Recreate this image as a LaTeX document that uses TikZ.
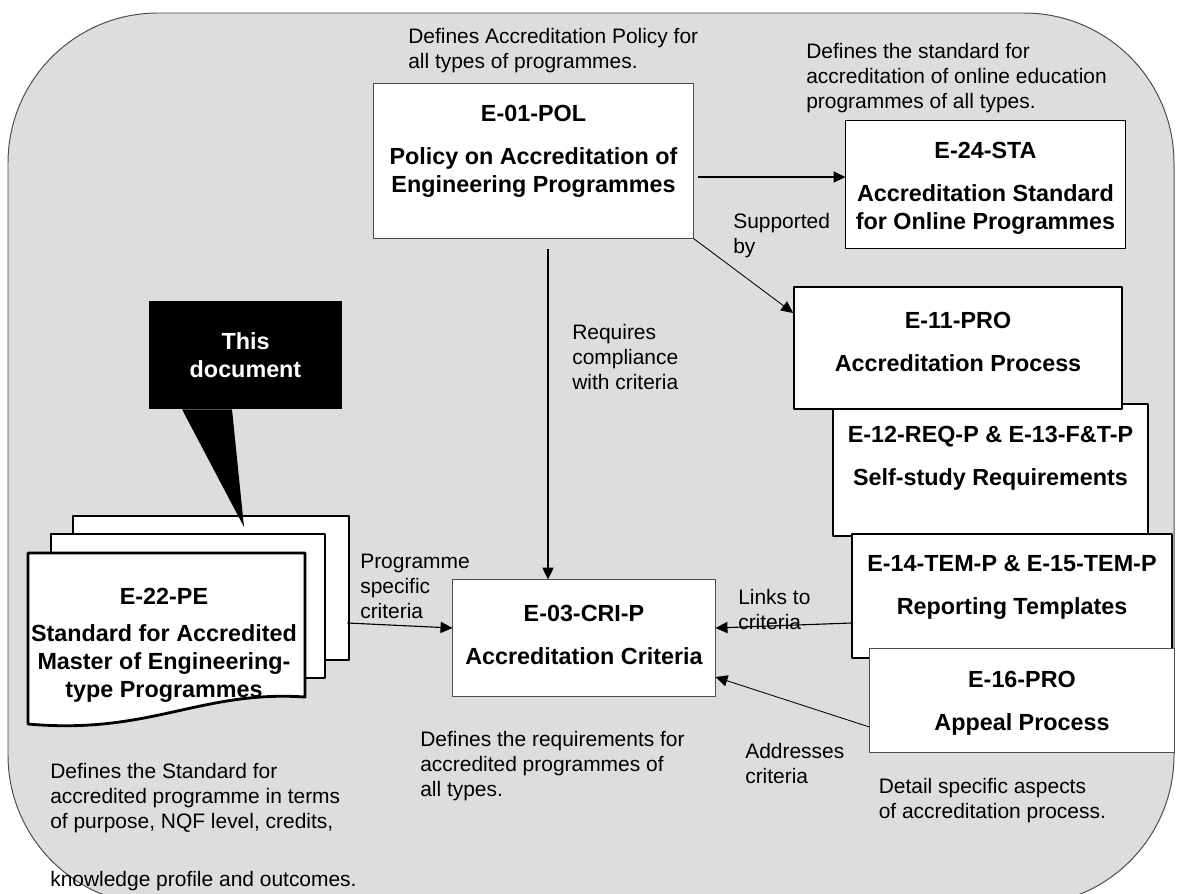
\documentclass[tikz,border=0pt]{standalone}
\usepackage{fontspec}
\setmainfont{Liberation Sans}
\usetikzlibrary{arrows.meta}

\newcommand{\pxl}{0.025cm}
\definecolor{panelgray}{RGB}{221,221,221}

\begin{document}
\begin{tikzpicture}[x=\pxl, y=-\pxl, line join=round, >={Triangle[length=8.5pt,width=8pt]}]

	\tikzset{docbox/.style={draw=black!70, line width=0.7pt, fill=white, inner sep=0pt},
		procbox/.style={docbox, draw=black, line width=1.1pt},
		pageline/.style={draw=black, line width=2pt, fill=white},
		pagebox/.style={pageline, inner sep=0pt},
		boxtext/.style={font=\fontsize{16.6}{19.9}\selectfont\bfseries, align=center, inner sep=0pt},
		remark/.style={font=\fontsize{14.9}{17.8}\selectfont, align=left, anchor=north west, inner sep=0pt},
		arrowline/.style={->, line width=0.8pt}}

	\useasboundingbox (0,0) rectangle (1179,894);
	\draw[fill=panelgray, draw=black!70, line width=0.7pt, rounded corners=3.75cm] (8,13) rectangle (1174,905);

	% remarks
	\node[remark] (polnote) at (408,28) {Defines Accreditation Policy for\\all types of programmes.};
	\node[remark] (stanote) at (806,43) {Defines the standard for\\accreditation of online education\\programmes of all types.};
	\node[remark] (supnote) at (733,213) {Supported\\by};
	\node[remark] (reqnote) at (572,324) {Requires\\compliance\\with criteria};
	\node[remark] (prgnote) at (360,554) {Programme\\specific\\criteria};
	\node[remark] (lnknote) at (738,589) {Links to\\criteria};
	\node[remark] (adrnote) at (745,743) {Addresses\\criteria};
	\node[remark] (prcnote) at (878.5,778) {Detail specific aspects\\of accreditation process.};
	\node[remark] (crinote) at (420,731) {Defines the requirements for\\accredited programmes of\\all types.};
	\node[remark] (stdnote) at (50,763) {Defines the Standard for\\accredited programme in terms\\of purpose, NQF level, credits,\\[23.5pt]knowledge profile and outcomes.};

	% documents
	\node[docbox, minimum width=7.975cm, minimum height=3.85cm] (e01) at (533.5,161) {};
	\node[boxtext] (e01txt) at (533.5,151.5) {E-01-POL\\[10.7pt]Policy on Accreditation of\\Engineering Programmes};
	\node[docbox, draw=black, minimum width=6.975cm, minimum height=3.175cm] (e24) at (985.5,184.5) {};
	\node[boxtext] (e24txt) at (985.5,188.5) {E-24-STA\\[10.7pt]Accreditation Standard\\for Online Programmes};
	\node[procbox, minimum width=7.875cm, minimum height=3.3cm] (e12) at (990.5,470) {};
	\node[boxtext] (e12txt) at (990.5,458) {E-12-REQ-P \& E-13-F\&T-P\\[10.7pt]Self-study Requirements};
	\node[procbox, minimum width=8.2cm, minimum height=3.05cm] (e11) at (958,348) {};
	\node[boxtext] (e11txt) at (958,341.5) {E-11-PRO\\[10.7pt]Accreditation Process};
	\node[procbox, minimum width=8cm, minimum height=3.1cm] (e14) at (1012,596) {};
	\node[boxtext] (e14txt) at (1012,587.5) {E-14-TEM-P \& E-15-TEM-P\\[10.7pt]Reporting Templates};
	\node[docbox, minimum width=7.6cm, minimum height=2.6cm] (e16) at (1022,700) {};
	\node[boxtext] (e16txt) at (1022,703.5) {E-16-PRO\\[10.7pt]Appeal Process};
	\node[docbox, minimum width=6.55cm, minimum height=2.9cm] (e03) at (584,638) {};
	\node[boxtext] (e03txt) at (584,634.5) {E-03-CRI-P\\[10.7pt]Accreditation Criteria};

	% this document (stack)
	\node[pagebox, minimum width=6.9cm, minimum height=3.6cm] (pg3) at (211,588) {};
	\node[pagebox, minimum width=6.85cm, minimum height=3.6cm] (pg2) at (188,606) {};
	\filldraw[pageline] (28,553) -- (305,553) -- (305,697) .. controls (200,690) and (150,735) .. (28,724) -- cycle;
	\node[boxtext] (e22txt) at (164,645) {E-22-PE\\[6.4pt]Standard for Accredited\\Master of Engineering-\\type Programmes};

	% callout
	\node[fill=black, text=white, boxtext, minimum width=4.825cm, minimum height=2.7cm] (note) at (245.5,355) {This\\document};
	\coordinate (tip) at (244,527);
	\fill ([xshift=-1.5875cm]note.south) -- (tip) -- ([xshift=-0.3375cm]note.south) -- cycle;

	% links
	\draw[arrowline] ([xshift=0.1cm,yshift=-0.4cm]e01.east) coordinate (a1) -- (a1 -| e24.west);
	\draw[arrowline, line width=0.6pt] (e01.south east) -- ([yshift=0.875cm]e11.west);
	\draw[arrowline, line width=1pt] ([xshift=0.3625cm,yshift=-0.25cm]e01.south) coordinate (a3) -- (a3 |- e03.north);
	\draw[arrowline] ([xshift=-0.075cm,yshift=-0.875cm]pg3.east) -- ([yshift=0.25cm]e03.west);
	\draw[arrowline] ([yshift=-0.675cm]e14.west) -- ([yshift=0.25cm]e03.east);
	\draw[arrowline, line width=0.6pt] ([yshift=-0.675cm]e16.west) -- ([yshift=-0.975cm]e03.east);
\end{tikzpicture}
\end{document}
